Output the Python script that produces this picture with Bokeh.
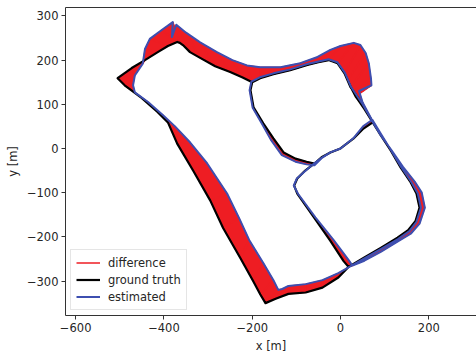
from bokeh.plotting import figure
from bokeh.models import (FixedTicker, CustomJSTickFormatter, LinearAxis, Range1d,
                          Legend, LegendItem)
from bokeh.embed import file_html
from bokeh.resources import INLINE

# ground truth trajectory (m)
gt_x = [0, -23, -43, -59, -80, -98, -105, -98, -61, -23, 7, 18,
        52, 91, 129, 154, 170, 179, 172, 159, 136, 114, 91, 73,
        50, 23, 9, -7, -27, -50, -75, -114, -152, -182, -200,
        -204, -197, -175, -152, -129, -102, -77, -59, -43, -23, 0,
        29, 52, 73, 91, 114, 136, 159, 172, 179, 170, 154, 129, 91, 52, 18,
        -5, -41, -79, -118, -147, -170,
        -182, -198, -227, -266, -295, -334, -370, -391, -414, -450, -489, -505,
        -473, -443, -414, -391, -370, -364, -357, -341, -318, -284, -250, -223, -200,
        -182, -152, -114, -75, -50, -27, -7, 9, 16, 23, 29, 34, 41, 55, 73]
gt_y = [0, -9, -20, -34, -50, -68, -84, -102, -155, -209, -255, -268,
        -248, -225, -202, -184, -164, -134, -102, -77, -43, -5, 30, 59,
        100, 138, 170, 193, 200, 195, 189, 177, 168, 159, 150,
        132, 93, 57, 23, -9, -23, -30, -34, -20, -9, 0,
        22, 45, 59, 30, -5, -43, -77, -102, -134, -164, -184, -202, -225, -248, -268,
        -292, -315, -326, -329, -340, -350,
        -330, -300, -248, -180, -118, -50, 11, 59, 82, 114, 143, 159,
        182, 200, 218, 232, 241, 239, 234, 218, 205, 186, 173, 161, 150,
        159, 168, 177, 189, 195, 200, 193, 170, 155, 139, 128, 118, 108, 88, 59]

# estimated trajectory (m)
est_x = [0, -23, -43, -60, -80, -99, -106, -96, -57, -16, 18, 27,
         54, 91, 129, 159, 179, 191, 184, 168, 141, 116, 91, 73,
         50, 24, 10, -7, -27, -50, -75, -114, -152, -183, -202,
         -206, -199, -178, -158, -133, -102, -77, -59, -43, -23, 0,
         29, 51, 72, 92, 115, 138, 161, 175, 182, 172, 156, 130, 91, 52, 27,
         -5, -41, -79, -118, -132, -141,
         -152, -175, -207, -230, -257, -302, -341, -375, -402, -436, -466, -470,
         -466, -448, -443, -432, -405, -380, -382, -372, -350, -318, -280, -245, -212,
         -182, -136, -91, -52, -23, 0, 30, 45, 57, 64, 69, 70, 42, 50, 73]
est_y = [0, -9, -21, -34, -51, -68, -84, -103, -156, -207, -252, -265,
         -254, -234, -211, -193, -170, -134, -100, -75, -41, -5, 30, 60,
         100, 139, 171, 195, 202, 197, 191, 179, 170, 161, 151,
         132, 92, 56, 20, -15, -30, -36, -38, -22, -9, 0,
         23, 50, 65, 32, -5, -43, -77, -102, -134, -166, -187, -205, -228, -250, -264,
         -282, -298, -307, -311, -318, -320,
         -298, -259, -207, -157, -102, -34, 14, 50, 75, 105, 127, 143,
         165, 192, 225, 248, 268, 286, 252, 280, 262, 240, 218, 200, 188,
         184, 184, 193, 207, 223, 232, 239, 234, 216, 193, 158, 143, 130, 104, 61]

x_ticks = [-600, -400, -200, 0, 200]
y_ticks = [-300, -200, -100, 0, 100, 200, 300]
x_label = "x [m]"
y_label = "y [m]"
legend_labels = ["difference", "ground truth", "estimated"]

RED = "#ee1d23"
BLUE = "#3d4fb0"
TXT = "#262626"
SPINE = "#333333"
FONT = "DejaVu Sans"

p = figure(frame_width=411, frame_height=308,
           x_range=Range1d(-623, 308), y_range=Range1d(-378, 319),
           output_backend="svg", toolbar_location=None,
           min_border_left=65, min_border_right=0, min_border_top=7, min_border_bottom=37,
           background_fill_color="white", border_fill_color="white")
p.outline_line_color = None
p.xgrid.visible = False
p.ygrid.visible = False

# difference: quads between corresponding points + connecting segments
qx, qy = [], []
for i in range(len(gt_x) - 1):
    qx.append([gt_x[i], gt_x[i + 1], est_x[i + 1], est_x[i]])
    qy.append([gt_y[i], gt_y[i + 1], est_y[i + 1], est_y[i]])
p.patches(qx, qy, fill_color=RED, line_color=RED, line_width=1)
r_diff = p.segment(gt_x, gt_y, est_x, est_y, line_color=RED, line_width=1.5)
r_gt = p.line(gt_x, gt_y, line_color="black", line_width=2.2, line_join="round")
r_est = p.line(est_x, est_y, line_color=BLUE, line_width=2, line_join="round")

fmt = CustomJSTickFormatter(code="return tick < 0 ? '\u2212' + (-tick) : '' + tick;")
for ax, ticks, lab in ((p.xaxis[0], x_ticks, x_label), (p.yaxis[0], y_ticks, y_label)):
    ax.ticker = FixedTicker(ticks=ticks)
    ax.formatter = fmt
    ax.axis_label = lab
    ax.axis_line_color = SPINE
    ax.major_tick_line_color = SPINE
    ax.major_tick_out = 4
    ax.major_tick_in = 0
    ax.minor_tick_line_color = None
    ax.major_label_text_font = FONT
    ax.major_label_text_font_size = "11.5px"
    ax.major_label_text_color = TXT
    ax.major_label_standoff = 3
    ax.axis_label_text_font = FONT
    ax.axis_label_text_font_size = "11.5px"
    ax.axis_label_text_font_style = "normal"
    ax.axis_label_text_color = TXT
    ax.axis_label_standoff = 4

top = LinearAxis(ticker=FixedTicker(ticks=[]), major_label_text_font_size="0px",
                 major_tick_out=0, major_tick_in=0, minor_tick_out=0, minor_tick_in=0,
                 axis_line_color=SPINE, major_label_standoff=0)
p.add_layout(top, "above")

legend = Legend(items=[LegendItem(label=legend_labels[0], renderers=[r_diff]),
                       LegendItem(label=legend_labels[1], renderers=[r_gt]),
                       LegendItem(label=legend_labels[2], renderers=[r_est])],
                location="bottom_left")
legend.margin = 5
legend.padding = 5
legend.spacing = 2
legend.glyph_width = 24
legend.glyph_height = 15
legend.label_height = 15
legend.label_standoff = 8
legend.label_text_font = FONT
legend.label_text_font_size = "11.5px"
legend.label_text_color = TXT
legend.border_line_color = "#cccccc"
legend.background_fill_alpha = 0.85
p.add_layout(legend)

open("out.html", "w").write(file_html(p, INLINE))
